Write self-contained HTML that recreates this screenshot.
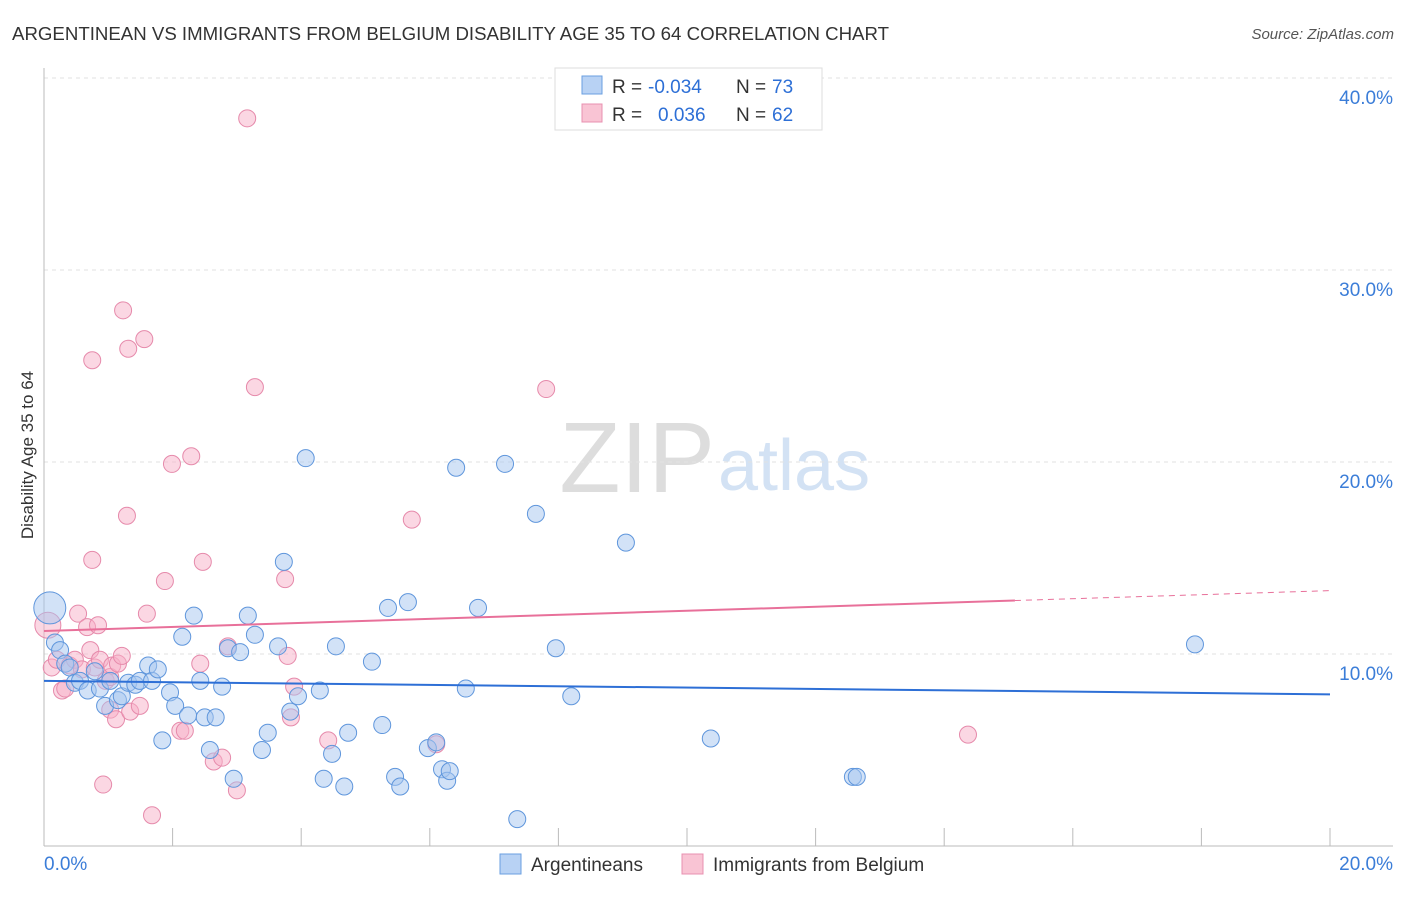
<!DOCTYPE html>
<html><head><meta charset="utf-8"><style>
body{margin:0;background:#fff;font-family:"Liberation Sans",sans-serif;}
svg text{font-family:"Liberation Sans",sans-serif;}
</style></head><body>
<svg id="chart" width="1406" height="892" viewBox="0 0 1406 892" xmlns="http://www.w3.org/2000/svg">
<text x="12" y="40" font-size="18" fill="#333" textLength="877" lengthAdjust="spacingAndGlyphs">ARGENTINEAN VS IMMIGRANTS FROM BELGIUM DISABILITY AGE 35 TO 64 CORRELATION CHART</text>
<text x="1394" y="39" font-size="15" fill="#555" font-style="italic" text-anchor="end">Source: ZipAtlas.com</text>
<text x="715" y="492" font-size="100" fill="#ddd" text-anchor="end" font-family="Liberation Serif">ZIP</text>
<text x="718" y="490" font-size="72" fill="#d3e2f4">atlas</text>
<text transform="translate(33,455) rotate(-90)" font-size="17" fill="#333" text-anchor="middle">Disability Age 35 to 64</text>
<g id="grid"></g><g id="marks"></g>
<g>
<rect x="555" y="68" width="267" height="62" fill="#fff" stroke="#ddd"/>
<rect x="582" y="76" width="20" height="18" fill="#b8d2f4" stroke="#6a9fe0"/>
<rect x="582" y="104" width="20" height="18" fill="#f9c4d4" stroke="#e890b0"/>
<text y="93" font-size="19" fill="#333"><tspan x="612">R =</tspan><tspan x="648" fill="#2d6fd6">-0.034</tspan><tspan x="736">N =</tspan><tspan x="772" fill="#2d6fd6">73</tspan></text>
<text y="121" font-size="19" fill="#333"><tspan x="612">R =</tspan><tspan x="658" fill="#2d6fd6">0.036</tspan><tspan x="736">N =</tspan><tspan x="772" fill="#2d6fd6">62</tspan></text>
</g>
<g>
<rect x="500" y="854" width="21" height="20" fill="#b8d2f4" stroke="#6a9fe0"/>
<text x="531" y="871" font-size="19" fill="#333">Argentineans</text>
<rect x="682" y="854" width="21" height="20" fill="#f9c4d4" stroke="#e890b0"/>
<text x="713" y="871" font-size="19" fill="#333">Immigrants from Belgium</text>
</g>
</svg>
<script>
const yTicks=[10,20,30,40];
const xTickLabels=["0.0%","20.0%"];
const blueX=[0.09,0.17,0.25,0.33,0.40,0.48,0.56,0.68,0.79,0.87,0.95,1.03,1.15,1.21,1.31,1.42,1.49,1.62,1.68,1.77,1.84,1.96,2.04,2.15,2.24,2.33,2.43,2.50,2.58,2.67,2.77,2.86,2.95,3.05,3.17,3.28,3.39,3.48,3.64,3.73,3.83,3.95,4.07,4.29,4.35,4.48,4.54,4.67,4.73,5.10,5.26,5.35,5.46,5.54,5.66,5.97,6.10,6.19,6.27,6.31,6.41,6.56,6.75,7.17,7.36,7.65,7.96,8.20,9.05,10.37,12.58,12.64,17.90];
const blueY=[12.4,10.6,10.2,9.5,9.3,8.5,8.6,8.1,9.1,8.2,7.3,8.6,7.6,7.8,8.5,8.4,8.6,9.4,8.6,9.2,5.5,8.0,7.3,10.9,6.8,12.0,8.6,6.7,5.0,6.7,8.3,10.3,3.5,10.1,12.0,11.0,5.0,5.9,10.4,14.8,7.0,7.8,20.2,8.1,3.5,4.8,10.4,3.1,5.9,9.6,6.3,12.4,3.6,3.1,12.7,5.1,5.4,4.0,3.4,3.9,19.7,8.2,12.4,19.9,1.4,17.3,10.3,7.8,15.8,5.6,3.6,3.6,10.5];
const pinkX=[0.06,0.12,0.20,0.28,0.33,0.40,0.48,0.53,0.59,0.67,0.72,0.75,0.75,0.79,0.84,0.87,0.92,0.96,1.03,1.03,1.06,1.12,1.15,1.21,1.23,1.29,1.31,1.34,1.49,1.56,1.60,1.68,1.88,1.99,2.12,2.19,2.29,2.43,2.47,2.64,2.77,2.86,3.00,3.16,3.28,3.75,3.79,3.84,3.89,4.42,5.72,6.10,7.81,14.37];
const pinkY=[11.5,9.3,9.7,8.1,8.2,9.4,9.7,12.1,9.2,11.4,10.2,14.9,25.3,9.3,11.5,9.7,3.2,8.6,8.8,7.1,9.4,6.6,9.5,9.9,27.9,17.2,25.9,7.0,7.3,26.4,12.1,1.6,13.8,19.9,6.0,6.0,20.3,9.5,14.8,4.4,4.6,10.4,2.9,37.9,23.9,13.9,9.9,6.7,8.3,5.5,17.0,5.3,23.8,5.8];
const blueTrend=[8.6,7.9];
const pinkTrend=[11.2,13.3];
const pinkSolidEnd=15.1;
const X=v=>44+v*64.3, Y=v=>846-v*19.2;
const NS="http://www.w3.org/2000/svg";
function mk(tag,attrs,parent){const e=document.createElementNS(NS,tag);for(const k in attrs)e.setAttribute(k,attrs[k]);parent.appendChild(e);return e;}
const grid=document.getElementById('grid'),marks=document.getElementById('marks');
yTicks.forEach(t=>{
 const l=mk('line',{x1:44,x2:1393,y1:Y(t),y2:Y(t),stroke:'#e2e2e2','stroke-dasharray':'4,4'},grid);
 
 
 const tx=mk('text',{x:1393,y:Y(t)+26,'font-size':19,fill:'#3b7dd8','text-anchor':'end'},grid);
 tx.textContent=t.toFixed(1)+'%';
 
 
});
const ax=mk('line',{x1:44,x2:1393,y1:846,y2:846,stroke:'#bbb'},grid);


const ay=mk('line',{x1:44,x2:44,y1:68,y2:846,stroke:'#bbb'},grid);


for(let i=1;i<=10;i++){const t=mk('line',{x1:X(i*2),x2:X(i*2),y1:828,y2:846,stroke:'#bbb'},grid);
 
 }
[[0,'start',44],[20,'end',1393]].forEach((d,i)=>{const t=mk('text',{x:d[2],y:870,'font-size':19,fill:'#3b7dd8','text-anchor':d[1]},grid);t.textContent=xTickLabels[i];
 
 });
function dots(xs,ys,fill,stroke,name){xs.forEach((x,i)=>{const r=(i===0)?(name==='blue-point'?16:13):8.5;
 const c=mk('circle',{cx:X(x),cy:Y(ys[i]),r:r,fill:fill,'fill-opacity':0.5,stroke:stroke,'stroke-width':1},marks);
 
 });}
dots(pinkX,pinkY,'#f7b0c8','#e68aab','pink-point');
dots(blueX,blueY,'#a6c6f0','#5f96dc','blue-point');
const bl=mk('line',{x1:X(0),y1:Y(blueTrend[0]),x2:X(20),y2:Y(blueTrend[1]),stroke:'#2d6fd6','stroke-width':2},marks);


const pAt=x=>pinkTrend[0]+(pinkTrend[1]-pinkTrend[0])*x/20;
const pl=mk('line',{x1:X(0),y1:Y(pAt(0)),x2:X(pinkSolidEnd),y2:Y(pAt(pinkSolidEnd)),stroke:'#e8709a','stroke-width':2},marks);


const pd=mk('line',{x1:X(pinkSolidEnd),y1:Y(pAt(pinkSolidEnd)),x2:X(20),y2:Y(pAt(20)),stroke:'#e8709a','stroke-width':1,'stroke-dasharray':'6,5'},marks);


</script>
</body></html>
